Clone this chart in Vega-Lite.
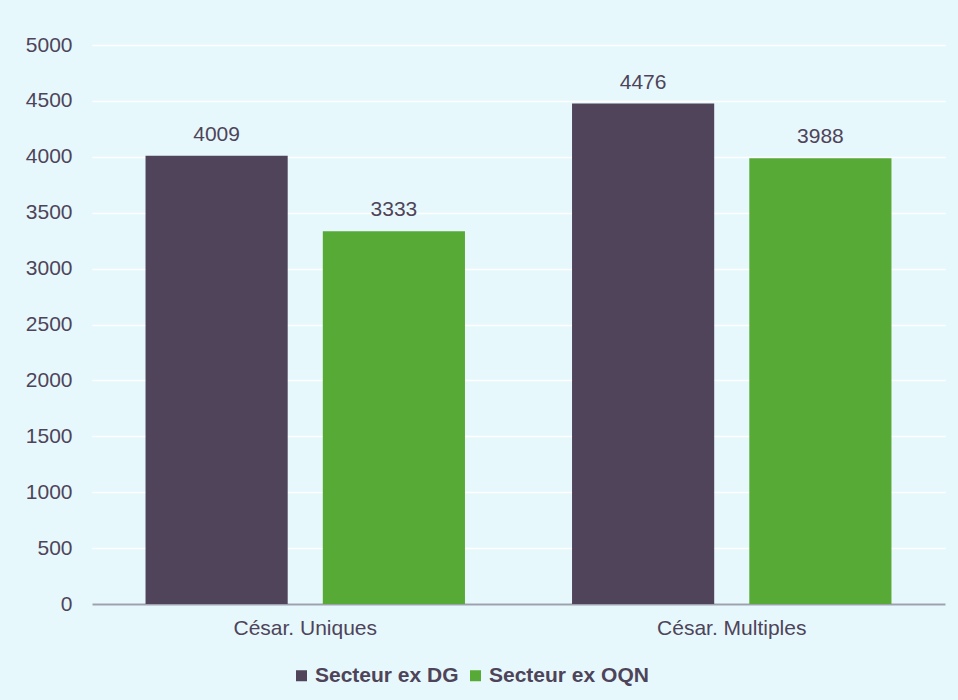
{
  "$schema": "https://vega.github.io/schema/vega-lite/v6.json",
  "autosize": "none",
  "width": 853,
  "height": 559,
  "padding": {"left": 92, "top": 45, "right": 13, "bottom": 96},
  "background": "#E7F8FD",
  "config": {
    "view": {"stroke": null},
    "font": "Liberation Sans",
    "axis": {"labelFont": "Liberation Sans", "labelColor": "#4E4459", "labelFontSize": 21}
  },
  "data": {
    "values": [
      {"cat": "César. Uniques", "serie": "Secteur ex DG", "val": 4009},
      {"cat": "César. Uniques", "serie": "Secteur ex OQN", "val": 3333},
      {"cat": "César. Multiples", "serie": "Secteur ex DG", "val": 4476},
      {"cat": "César. Multiples", "serie": "Secteur ex OQN", "val": 3988}
    ]
  },
  "encoding": {
    "x": {
      "field": "cat", "type": "nominal", "sort": ["César. Uniques", "César. Multiples"],
      "scale": {"paddingInner": 0, "paddingOuter": 0},
      "axis": {"title": null, "labelAngle": 0, "ticks": false, "domainColor": "#9BA1AF", "domainWidth": 2, "labelPadding": 13, "grid": false}
    },
    "xOffset": {
      "field": "serie", "type": "nominal", "sort": ["Secteur ex DG", "Secteur ex OQN"],
      "scale": {"paddingInner": 0.198, "paddingOuter": 0.302}
    },
    "y": {
      "field": "val", "type": "quantitative",
      "scale": {"domain": [0, 5000]},
      "axis": {"title": null, "format": "d", "values": [0, 500, 1000, 1500, 2000, 2500, 3000, 3500, 4000, 4500, 5000], "ticks": false, "domain": false, "gridColor": "#FFFFFF", "gridWidth": 1.5, "labelPadding": 20}
    }
  },
  "layer": [
    {
      "mark": {"type": "bar"},
      "encoding": {
        "color": {
          "field": "serie", "type": "nominal", "sort": ["Secteur ex DG", "Secteur ex OQN"],
          "scale": {"domain": ["Secteur ex DG", "Secteur ex OQN"], "range": ["#4F4459", "#58AA36"]},
          "legend": {
            "title": null, "orient": "none", "direction": "horizontal",
            "legendX": 199, "legendY": 620,
            "symbolType": "square", "symbolSize": 121, "symbolStrokeWidth": 0,
            "labelFont": "Liberation Sans", "labelFontSize": 21, "labelFontWeight": "bold", "labelColor": "#4E4459",
            "labelOffset": 3, "columnPadding": 6
          }
        }
      }
    },
    {
      "mark": {"type": "text", "baseline": "alphabetic", "dy": -15, "fontSize": 21, "color": "#4E4459", "font": "Liberation Sans"},
      "encoding": {"text": {"field": "val", "type": "quantitative"}}
    }
  ]
}
